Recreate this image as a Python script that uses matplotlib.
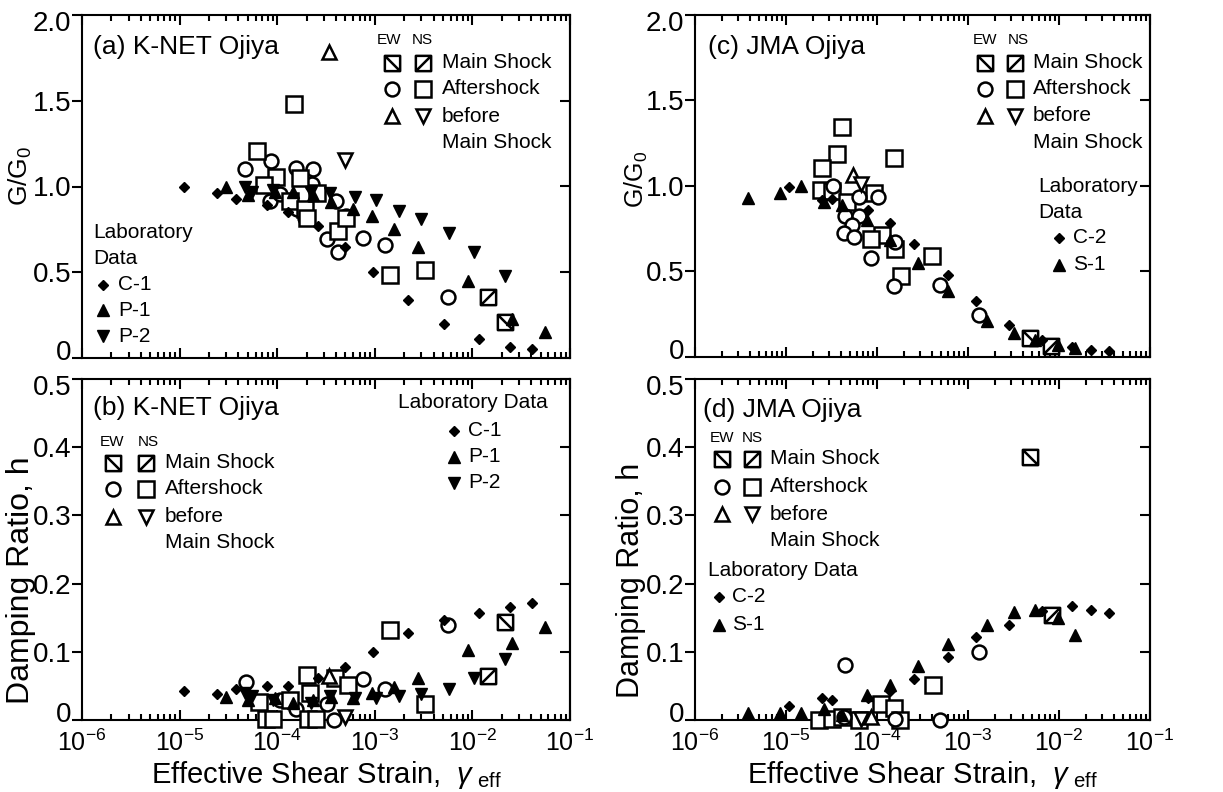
import matplotlib
matplotlib.use("Agg")
import matplotlib.pyplot as plt
from matplotlib.path import Path
from matplotlib.transforms import ScaledTranslation
from matplotlib.ticker import FixedLocator, FixedFormatter, LogLocator, NullFormatter

plt.rcParams['font.family'] = ['Liberation Sans', 'DejaVu Sans']
plt.rcParams['mathtext.fontset'] = 'custom'
plt.rcParams['mathtext.rm'] = 'Liberation Sans'
plt.rcParams['mathtext.it'] = 'Liberation Sans:italic'
plt.rcParams['mathtext.bf'] = 'Liberation Sans:bold'

# ---------------- data: panel (a)/(b) K-NET Ojiya ----------------
knet_C1_x = [1.1e-5, 2.4e-5, 3.8e-5, 7.8e-5, 1.3e-4, 2.6e-4, 4.9e-4, 9.6e-4, 2.2e-3, 5.1e-3, 1.16e-2, 2.4e-2, 4.1e-2]
knet_C1_G = [1.00, 0.96, 0.93, 0.89, 0.85, 0.77, 0.65, 0.50, 0.34, 0.20, 0.11, 0.065, 0.05]
knet_C1_h = [0.043, 0.038, 0.046, 0.050, 0.050, 0.062, 0.078, 0.100, 0.127, 0.147, 0.157, 0.165, 0.171]

knet_P1_x = [3.0e-5, 5.0e-5, 9.5e-5, 1.46e-4, 2.34e-4, 3.6e-4, 6.0e-4, 9.4e-4, 1.58e-3, 2.74e-3, 9.0e-3, 2.55e-2, 5.6e-2]
knet_P1_G = [1.00, 0.95, 0.97, 0.97, 0.95, 0.91, 0.87, 0.83, 0.75, 0.65, 0.45, 0.23, 0.15]
knet_P1_h = [0.033, 0.030, 0.032, 0.025, 0.030, 0.033, 0.032, 0.040, 0.049, 0.061, 0.103, 0.113, 0.136]

knet_P2_x = [4.7e-5, 5.5e-5, 9.1e-5, 2.2e-4, 3.5e-4, 6.2e-4, 1.02e-3, 1.76e-3, 3.0e-3, 5.7e-3, 1.04e-2, 2.18e-2]
knet_P2_G = [1.00, 0.97, 0.98, 0.97, 0.96, 0.94, 0.92, 0.86, 0.81, 0.73, 0.62, 0.48]
knet_P2_h = [0.039, 0.035, 0.030, 0.025, 0.035, 0.032, 0.032, 0.035, 0.038, 0.046, 0.061, 0.089]

knet_EWmain_x, knet_EWmain_G, knet_EWmain_h = [2.14e-2], [0.207], [0.143]
knet_NSmain_x, knet_NSmain_G, knet_NSmain_h = [1.45e-2], [0.353], [0.065]
knet_EWbefore_x, knet_EWbefore_G, knet_EWbefore_h = [3.4e-4], [1.786], [0.064]
knet_NSbefore_x, knet_NSbefore_G, knet_NSbefore_h = [5.0e-4], [1.154], [0.005]

knet_EWafter_x_G = [4.7e-5, 8.6e-5, 8.4e-5, 1.06e-4, 1.55e-4, 2.34e-4, 2.25e-4, 1.58e-4, 1.92e-4, 3.2e-4, 4.0e-4, 4.2e-4, 5.1e-4, 7.5e-4, 1.26e-3, 5.6e-3]
knet_EWafter_G = [1.103, 1.148, 0.914, 0.957, 1.109, 1.103, 1.012, 0.866, 0.817, 0.694, 0.914, 0.616, 0.827, 0.700, 0.657, 0.353]
knet_EWafter_x_h = [4.8e-5, 8.6e-5, 1.06e-4, 1.55e-4, 2.34e-4, 3.2e-4, 3.8e-4, 7.5e-4, 1.26e-3, 5.6e-3]
knet_EWafter_h = [0.056, 0.002, 0.029, 0.016, 0.002, 0.024, 0.0, 0.060, 0.045, 0.139]

knet_NSafter_x_G = [1.49e-4, 6.2e-5, 9.8e-5, 7.3e-5, 1.35e-4, 1.73e-4, 1.92e-4, 2.0e-4, 2.53e-4, 4.2e-4, 5.1e-4, 1.43e-3, 3.25e-3]
knet_NSafter_G = [1.48, 1.207, 1.057, 1.006, 0.914, 1.047, 0.866, 0.817, 0.963, 0.743, 0.817, 0.485, 0.515]
knet_NSafter_x_h = [6.5e-5, 7.6e-5, 9.1e-5, 1.35e-4, 2.0e-4, 2.16e-4, 2.07e-4, 2.49e-4, 3.9e-4, 5.3e-4, 1.43e-3, 3.25e-3]
knet_NSafter_h = [0.027, 0.001, 0.001, 0.029, 0.066, 0.039, 0.001, 0.001, 0.061, 0.051, 0.132, 0.024]

# ---------------- data: panel (c)/(d) JMA Ojiya ----------------
jma_C2_x = [1.09e-5, 2.47e-5, 3.2e-5, 7.98e-5, 1.40e-4, 2.58e-4, 5.96e-4, 1.21e-3, 2.8e-3, 6.5e-3, 1.40e-2, 2.27e-2, 3.5e-2]
jma_C2_G = [0.996, 0.918, 0.922, 0.86, 0.786, 0.661, 0.48, 0.325, 0.189, 0.101, 0.058, 0.043, 0.033]
jma_C2_h = [0.021, 0.032, 0.029, 0.032, 0.043, 0.060, 0.093, 0.122, 0.140, 0.160, 0.167, 0.162, 0.157]

jma_S1_x = [3.8e-6, 8.5e-6, 1.48e-5, 2.6e-5, 4.15e-5, 7.8e-5, 1.40e-4, 2.85e-4, 6.05e-4, 1.63e-3, 3.2e-3, 5.5e-3, 9.8e-3, 1.5e-2]
jma_S1_G = [0.928, 0.961, 1.00, 0.909, 0.889, 0.80, 0.685, 0.549, 0.387, 0.208, 0.14, 0.10, 0.068, 0.053]
jma_S1_h = [0.010, 0.010, 0.010, 0.016, 0.008, 0.037, 0.051, 0.079, 0.112, 0.140, 0.159, 0.162, 0.149, 0.124]

jma_EWmain_x_G, jma_EWmain_G = [4.8e-3], [0.111]
jma_NSmain_x_G, jma_NSmain_G = [8.1e-3], [0.062]
jma_EWmain_x_h, jma_EWmain_h = [4.8e-3], [0.385]
jma_NSmain_x_h, jma_NSmain_h = [8.4e-3], [0.154]
jma_EWbefore_x_G, jma_EWbefore_G = [5.5e-5], [1.064]
jma_NSbefore_x_G, jma_NSbefore_G = [6.7e-5], [1.01]
jma_EWbefore_x_h, jma_EWbefore_h = [8.5e-5], [0.005]
jma_NSbefore_x_h, jma_NSbefore_h = [6.7e-5], [0.002]

jma_NSafter_x_G = [4.15e-5, 3.66e-5, 2.47e-5, 2.41e-5, 3.2e-5, 4.7e-5, 9.2e-5, 1.52e-4, 1.14e-4, 8.5e-5, 1.56e-4, 4.05e-4, 1.83e-4]
jma_NSafter_G = [1.346, 1.19, 1.103, 0.977, 0.973, 0.909, 0.961, 1.161, 0.714, 0.689, 0.63, 0.591, 0.471]
jma_EWafter_x_G = [3.28e-5, 6.3e-5, 1.03e-4, 4.4e-5, 6.3e-5, 5.3e-5, 4.3e-5, 5.6e-5, 8.6e-5, 1.58e-4, 1.52e-4, 4.9e-4, 1.31e-3]
jma_EWafter_G = [1.0, 0.938, 0.938, 0.825, 0.825, 0.772, 0.724, 0.70, 0.578, 0.675, 0.416, 0.422, 0.247]

jma_EWafter_x_h = [4.4e-5, 1.31e-3, 4.9e-4, 1.58e-4, 4.3e-5]
jma_EWafter_h = [0.080, 0.100, 0.0, 0.002, 0.005]
jma_NSafter_x_h = [4.15e-4, 1.11e-4, 1.52e-4, 2.3e-5, 3.2e-5, 4.15e-5, 6.3e-5, 1.8e-4]
jma_NSafter_h = [0.051, 0.023, 0.018, 0.0, 0.002, 0.005, 0.0, 0.0]

x_ticks = [1e-6, 1e-5, 1e-4, 1e-3, 1e-2, 1e-1]
x_ticklabels = ['$10^{-6}$', '$10^{-5}$', '$10^{-4}$', '$10^{-3}$', '$10^{-2}$', '$10^{-1}$']
G_ticks = [0, 0.5, 1.0, 1.5, 2.0]
G_ticklabels = ['0', '0.5', '1.0', '1.5', '2.0']
h_ticks = [0, 0.1, 0.2, 0.3, 0.4, 0.5]
h_ticklabels = ['0', '0.1', '0.2', '0.3', '0.4', '0.5']

# ---------------- figure ----------------
W, H = 1223, 792
fig = plt.figure(figsize=(W / 100, H / 100), dpi=100)

boxes = {
    'a': (82, 15, 570, 358),
    'b': (82, 379, 570, 720),
    'c': (695, 15, 1150, 357),
    'd': (695, 379, 1150, 720),
}
axes = {}
for k, (l, t, r, b) in boxes.items():
    axes[k] = fig.add_axes([l / W, 1 - b / H, (r - l) / W, (b - t) / H])


def frac(k, px, py):
    l, t, r, b = boxes[k]
    return (px - l) / (r - l), (b - py) / (b - t)


def box_marker(direction):
    if direction == 'EW':
        diag = [(-1, 1), (1, -1)]
    else:
        diag = [(-1, -1), (1, 1)]
    verts = [(-1, -1), (1, -1), (1, 1), (-1, 1), (-1, -1)] + diag
    codes = [Path.MOVETO, Path.LINETO, Path.LINETO, Path.LINETO, Path.CLOSEPOLY, Path.MOVETO, Path.LINETO]
    return Path(verts, codes)


EW_MAIN = box_marker('EW')
NS_MAIN = box_marker('NS')

open_kw = dict(linestyle='none', markerfacecolor='white', markeredgecolor='black', markeredgewidth=1.8, clip_on=False, zorder=3)
fill_kw = dict(linestyle='none', color='black', clip_on=False, zorder=4)

MS_SQ = 11
MS_CI = 10
MS_TRI = 10
MS_D = 5.5
MS_FT = 8
FS_LEG = 15
FS_TITLE = 19


def style_axis(ax, yticks, ylabels, ylim, bottom_labels):
    ax.set_xscale('log')
    ax.set_xlim(1e-6, 1e-1)
    ax.set_ylim(*ylim)
    ax.xaxis.set_major_locator(FixedLocator(x_ticks))
    ax.xaxis.set_major_formatter(FixedFormatter(x_ticklabels))
    ax.xaxis.set_minor_locator(LogLocator(base=10, subs=[2, 3, 4, 5, 6, 7, 8, 9], numticks=20))
    ax.xaxis.set_minor_formatter(NullFormatter())
    ax.yaxis.set_major_locator(FixedLocator(yticks))
    ax.yaxis.set_major_formatter(FixedFormatter(ylabels))
    ax.tick_params(axis='x', which='both', direction='in', top=True, bottom=True,
                   labelbottom=bottom_labels, width=1.5)
    ax.tick_params(axis='x', which='major', length=7, labelsize=18, pad=7)
    ax.tick_params(axis='x', which='minor', length=4)
    ax.tick_params(axis='y', which='major', direction='out', left=True, right=False,
                   length=7, width=1.5, labelsize=20, pad=0.5)
    sec = ax.secondary_yaxis('right')
    sec.set_yticks(yticks)
    sec.tick_params(direction='in', length=7, width=1.5, labelright=False)
    sec.spines['right'].set_linewidth(1.5)
    for s in ax.spines.values():
        s.set_linewidth(1.5)
    fig.canvas.draw()
    labs = ax.get_yticklabels()
    labs[0].set_transform(labs[0].get_transform() + ScaledTranslation(0, 8 / 100, fig.dpi_scale_trans))
    labs[-1].set_transform(labs[-1].get_transform() + ScaledTranslation(0, -6 / 100, fig.dpi_scale_trans))


def observed_legend(ax, k, ew_x, ns_x, text_x, ys, ewns_y, ew_lbl_x, ns_lbl_x):
    ax.text(*frac(k, ew_lbl_x, ewns_y), 'EW', transform=ax.transAxes, fontsize=11, va='center', ha='left')
    ax.text(*frac(k, ns_lbl_x, ewns_y), 'NS', transform=ax.transAxes, fontsize=11, va='center', ha='left')
    mk = [(EW_MAIN, NS_MAIN, MS_SQ, MS_SQ), ('o', 's', MS_CI, MS_SQ), ('^', 'v', MS_TRI, MS_TRI)]
    labels = ['Main Shock', 'Aftershock', 'before']
    for (m1, m2, s1, s2), y, lab in zip(mk, ys[:3], labels):
        ax.plot(*frac(k, ew_x, y), marker=m1, markersize=s1, transform=ax.transAxes, **open_kw)
        ax.plot(*frac(k, ns_x, y), marker=m2, markersize=s2, transform=ax.transAxes, **open_kw)
        ax.text(*frac(k, text_x, y), lab, transform=ax.transAxes, fontsize=FS_LEG, va='center', ha='left')
    ax.text(*frac(k, text_x, ys[3]), 'Main Shock', transform=ax.transAxes, fontsize=FS_LEG, va='center', ha='left')


def lab_legend(ax, k, title_lines, title_x, title_ys, mx, tx, entries):
    for line, y in zip(title_lines, title_ys):
        ax.text(*frac(k, title_x, y), line, transform=ax.transAxes, fontsize=FS_LEG, va='center', ha='left')
    for marker, ms, lab, y in entries:
        ax.plot(*frac(k, mx, y), marker=marker, markersize=ms, transform=ax.transAxes, **fill_kw)
        ax.text(*frac(k, tx, y), lab, transform=ax.transAxes, fontsize=FS_LEG, va='center', ha='left')


XLABEL = 'Effective Shear Strain,  $\\it{\\gamma}_{\\rm\\ eff}$'

# ---- (a) ----
ax = axes['a']
style_axis(ax, G_ticks, G_ticklabels, (0, 2.0), False)
ax.plot(knet_EWafter_x_G, knet_EWafter_G, marker='o', markersize=MS_CI, **open_kw)
ax.plot(knet_NSafter_x_G, knet_NSafter_G, marker='s', markersize=MS_SQ, **open_kw)
ax.plot(knet_EWbefore_x, knet_EWbefore_G, marker='^', markersize=MS_TRI, **open_kw)
ax.plot(knet_NSbefore_x, knet_NSbefore_G, marker='v', markersize=MS_TRI, **open_kw)
ax.plot(knet_EWmain_x, knet_EWmain_G, marker=EW_MAIN, markersize=MS_SQ, **open_kw)
ax.plot(knet_NSmain_x, knet_NSmain_G, marker=NS_MAIN, markersize=MS_SQ, **open_kw)
ax.plot(knet_C1_x, knet_C1_G, marker='D', markersize=MS_D, **fill_kw)
ax.plot(knet_P1_x, knet_P1_G, marker='^', markersize=MS_FT, **fill_kw)
ax.plot(knet_P2_x, knet_P2_G, marker='v', markersize=MS_FT, **fill_kw)
ax.text(*frac('a', 93, 47), '(a) K-NET Ojiya', transform=ax.transAxes, fontsize=FS_TITLE, va='center', ha='left')
observed_legend(ax, 'a', 392, 423, 442, [63, 89, 116, 143], 40, 377, 412)
lab_legend(ax, 'a', ['Laboratory', 'Data'], 93, [232, 258], 103, 118,
           [('D', MS_D, 'C-1', 285), ('^', MS_FT, 'P-1', 310), ('v', MS_FT, 'P-2', 336)])
ax.set_ylabel('G/G$_0$', fontsize=19)
ax.yaxis.set_label_coords(-0.098, 0.53)

# ---- (b) ----
ax = axes['b']
style_axis(ax, h_ticks, h_ticklabels, (0, 0.5), True)
ax.plot(knet_EWafter_x_h, knet_EWafter_h, marker='o', markersize=MS_CI, **open_kw)
ax.plot(knet_NSafter_x_h, knet_NSafter_h, marker='s', markersize=MS_SQ, **open_kw)
ax.plot(knet_EWbefore_x, knet_EWbefore_h, marker='^', markersize=MS_TRI, **open_kw)
ax.plot(knet_NSbefore_x, knet_NSbefore_h, marker='v', markersize=MS_TRI, **open_kw)
ax.plot(knet_EWmain_x, knet_EWmain_h, marker=EW_MAIN, markersize=MS_SQ, **open_kw)
ax.plot(knet_NSmain_x, knet_NSmain_h, marker=NS_MAIN, markersize=MS_SQ, **open_kw)
ax.plot(knet_C1_x, knet_C1_h, marker='D', markersize=MS_D, **fill_kw)
ax.plot(knet_P1_x, knet_P1_h, marker='^', markersize=MS_FT, **fill_kw)
ax.plot(knet_P2_x, knet_P2_h, marker='v', markersize=MS_FT, **fill_kw)
ax.text(*frac('b', 93, 408), '(b) K-NET Ojiya', transform=ax.transAxes, fontsize=FS_TITLE, va='center', ha='left')
observed_legend(ax, 'b', 113, 146, 165, [463, 489, 517, 543], 442, 100, 138)
lab_legend(ax, 'b', ['Laboratory Data'], 398, [403], 454, 468,
           [('D', MS_D, 'C-1', 431), ('^', MS_FT, 'P-1', 457), ('v', MS_FT, 'P-2', 483)])
ax.set_ylabel('Damping Ratio, h', fontsize=23)
ax.yaxis.set_label_coords(-0.094, 0.41)
ax.set_xlabel(XLABEL, fontsize=21, labelpad=2)

# ---- (c) ----
ax = axes['c']
style_axis(ax, G_ticks, G_ticklabels, (0, 2.0), False)
ax.plot(jma_NSafter_x_G, jma_NSafter_G, marker='s', markersize=MS_SQ, **open_kw)
ax.plot(jma_EWafter_x_G, jma_EWafter_G, marker='o', markersize=MS_CI, **open_kw)
ax.plot(jma_EWbefore_x_G, jma_EWbefore_G, marker='^', markersize=MS_TRI, **open_kw)
ax.plot(jma_NSbefore_x_G, jma_NSbefore_G, marker='v', markersize=MS_TRI, **open_kw)
ax.plot(jma_EWmain_x_G, jma_EWmain_G, marker=EW_MAIN, markersize=MS_SQ, **open_kw)
ax.plot(jma_NSmain_x_G, jma_NSmain_G, marker=NS_MAIN, markersize=MS_SQ, **open_kw)
ax.plot(jma_C2_x, jma_C2_G, marker='D', markersize=MS_D, **fill_kw)
ax.plot(jma_S1_x, jma_S1_G, marker='^', markersize=MS_FT, **fill_kw)
ax.text(*frac('c', 708, 47), '(c) JMA Ojiya', transform=ax.transAxes, fontsize=FS_TITLE, va='center', ha='left')
observed_legend(ax, 'c', 985, 1015, 1033, [63, 89, 116, 143], 40, 973, 1008)
lab_legend(ax, 'c', ['Laboratory', 'Data'], 1038, [187, 213], 1059, 1073,
           [('D', MS_D, 'C-2', 238), ('^', MS_FT, 'S-1', 265)])
ax.set_ylabel('G/G$_0$', fontsize=18)
ax.yaxis.set_label_coords(-0.1, 0.52)

# ---- (d) ----
ax = axes['d']
style_axis(ax, h_ticks, h_ticklabels, (0, 0.5), True)
ax.plot(jma_NSafter_x_h, jma_NSafter_h, marker='s', markersize=MS_SQ, **open_kw)
ax.plot(jma_EWafter_x_h, jma_EWafter_h, marker='o', markersize=MS_CI, **open_kw)
ax.plot(jma_EWbefore_x_h, jma_EWbefore_h, marker='^', markersize=MS_TRI, **open_kw)
ax.plot(jma_NSbefore_x_h, jma_NSbefore_h, marker='v', markersize=MS_TRI, **open_kw)
ax.plot(jma_EWmain_x_h, jma_EWmain_h, marker=EW_MAIN, markersize=MS_SQ, **open_kw)
ax.plot(jma_NSmain_x_h, jma_NSmain_h, marker=NS_MAIN, markersize=MS_SQ, **open_kw)
ax.plot(jma_C2_x, jma_C2_h, marker='D', markersize=MS_D, **fill_kw)
ax.plot(jma_S1_x, jma_S1_h, marker='^', markersize=MS_FT, **fill_kw)
ax.text(*frac('d', 703, 410), '(d) JMA Ojiya', transform=ax.transAxes, fontsize=FS_TITLE, va='center', ha='left')
observed_legend(ax, 'd', 722, 752, 770, [459, 487, 514, 541], 438, 710, 742)
lab_legend(ax, 'd', ['Laboratory Data'], 708, [570], 719, 732,
           [('D', MS_D, 'C-2', 597), ('^', MS_FT, 'S-1', 625)])
ax.set_ylabel('Damping Ratio, h', fontsize=22)
ax.yaxis.set_label_coords(-0.108, 0.41)
ax.set_xlabel(XLABEL, fontsize=21, labelpad=2)

fig.savefig('out.png', dpi=100)
